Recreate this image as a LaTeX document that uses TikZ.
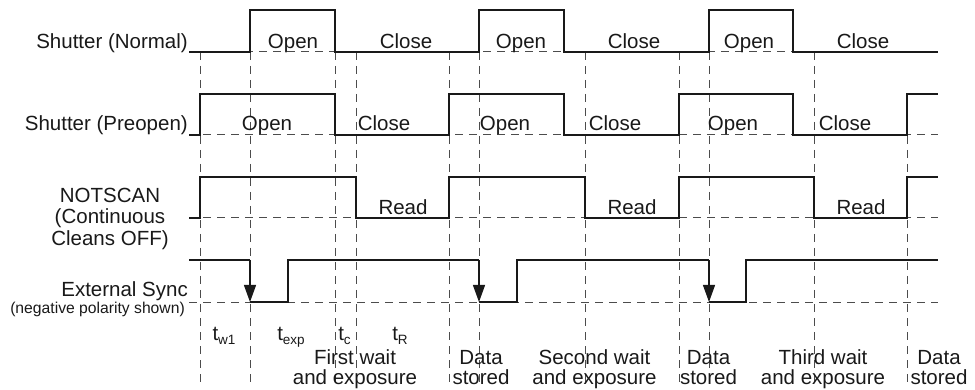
\documentclass[tikz,border=0pt]{standalone}
\usepackage{fontspec}
\setmainfont{Liberation Sans}
\usetikzlibrary{arrows.meta}
\newcommand{\tlbl}[1]{t\raisebox{-4.5pt}{\fontsize{13.5}{13.5}\selectfont #1}}
\begin{document}
\begin{tikzpicture}[x=1pt,y=-1pt]
                \tikzstyle{every node}+=[inner sep=0pt, text=black!90]
                \tikzstyle{guide}=[black!70, line width=1pt, dash pattern=on 8pt off 6pt]
                \tikzstyle{signal}=[black!90, line width=1.2pt]
                \tikzstyle{trig}=[signal, -{Triangle[length=17pt,width=12pt]}]
                \tikzstyle{lbl}=[font=\fontsize{20.5}{22}\selectfont, anchor=base]
                \tikzstyle{small}=[font=\fontsize{15.7}{17}\selectfont, anchor=base east]
                \useasboundingbox (0,0) rectangle (975,390);
                \draw [guide] (200,52) -- (200,385);
                \draw [guide] (250,52) -- (250,385);
                \draw [guide] (335,52) -- (335,385);
                \draw [guide] (356,52) -- (356,385);
                \draw [guide] (449,52) -- (449,385);
                \draw [guide] (479,52) -- (479,385);
                \draw [guide] (585,52) -- (585,385);
                \draw [guide] (679,52) -- (679,385);
                \draw [guide] (709,52) -- (709,385);
                \draw [guide] (814,52) -- (814,385);
                \draw [guide] (907,94) -- (907,385);
                \draw [guide] (189,52) -- (938,52);
                \draw [guide] (189,135) -- (938,135);
                \draw [guide] (189,218) -- (938,218);
                \draw [guide] (189,302) -- (938,302);
                \draw [signal] (189,52) -- (250,52) -- (250,10) -- (335,10) -- (335,52) -- (479,52) -- (479,10) -- (564,10) -- (564,52) -- (709,52) -- (709,10) -- (793,10) -- (793,52) -- (938,52);
                \draw [signal] (189,135) -- (200,135) -- (200,94) -- (335,94) -- (335,135) -- (449,135) -- (449,94) -- (564,94) -- (564,135) -- (679,135) -- (679,94) -- (793,94) -- (793,135) -- (907,135) -- (907,94) -- (938,94);
                \draw [signal] (189,218) -- (200,218) -- (200,177) -- (356,177) -- (356,218) -- (449,218) -- (449,177) -- (585,177) -- (585,218) -- (679,218) -- (679,177) -- (814,177) -- (814,218) -- (907,218) -- (907,177) -- (938,177);
                \draw [signal] (189,260) -- (250,260);
                \draw [trig] (250,260) -- (250,302);
                \draw [signal] (250,302) -- (288,302) -- (288,260) -- (479,260);
                \draw [trig] (479,260) -- (479,302);
                \draw [signal] (479,302) -- (517,302) -- (517,260) -- (709,260);
                \draw [trig] (709,260) -- (709,302);
                \draw [signal] (709,302) -- (746,302) -- (746,260) -- (938,260);
                \node [lbl, anchor=base east] (normal) at (188,48.5) {Shutter (Normal)};
                \node [lbl] (openN1) at (293,48.5) {Open};
                \node [lbl] (closeN1) at (406,48.5) {Close};
                \node [lbl] (openN2) at (521,48.5) {Open};
                \node [lbl] (closeN2) at (634,48.5) {Close};
                \node [lbl] (openN3) at (749,48.5) {Open};
                \node [lbl] (closeN3) at (863,48.5) {Close};
                \node [lbl, anchor=base east] (preopen) at (188,131) {Shutter (Preopen)};
                \node [lbl] (openP1) at (267,131) {Open};
                \node [lbl] (closeP1) at (384,131) {Close};
                \node [lbl] (openP2) at (505,131) {Open};
                \node [lbl] (closeP2) at (615,131) {Close};
                \node [lbl] (openP3) at (733,131) {Open};
                \node [lbl] (closeP3) at (845,131) {Close};
                \node [lbl] (notscan) at (110,202.5) {NOTSCAN};
                \node [lbl] (notscanb) at (110,224) {(Continuous};
                \node [lbl] (notscanc) at (110,245.5) {Cleans OFF)};
                \node [lbl] (read1) at (403,214.5) {Read};
                \node [lbl] (read2) at (632,214.5) {Read};
                \node [lbl] (read3) at (861,214.5) {Read};
                \node [lbl, anchor=base east] (sync) at (188,297) {External Sync};
                \node [small] (polarity) at (185,313) {(negative polarity shown)};
                \node [lbl] (tw1) at (224,340) {\tlbl{w1}};
                \node [lbl] (texp) at (291,340) {\tlbl{exp}};
                \node [lbl] (tc) at (344.5,340) {\tlbl{c}};
                \node [lbl] (tR) at (400,340) {\tlbl{R}};
                \node [lbl] (wait1) at (355,364.5) {First wait};
                \node [lbl] (wait1b) at (355,384.5) {and exposure};
                \node [lbl] (stored1) at (481,364.5) {Data};
                \node [lbl] (stored1b) at (481,384.5) {stored};
                \node [lbl] (wait2) at (594.5,364.5) {Second wait};
                \node [lbl] (wait2b) at (594.5,384.5) {and exposure};
                \node [lbl] (stored2) at (708.5,364.5) {Data};
                \node [lbl] (stored2b) at (708.5,384.5) {stored};
                \node [lbl] (wait3) at (823,364.5) {Third wait};
                \node [lbl] (wait3b) at (823,384.5) {and exposure};
                \node [lbl] (stored3) at (939,364.5) {Data};
                \node [lbl] (stored3b) at (939,384.5) {stored};
            \end{tikzpicture}
\end{document}
